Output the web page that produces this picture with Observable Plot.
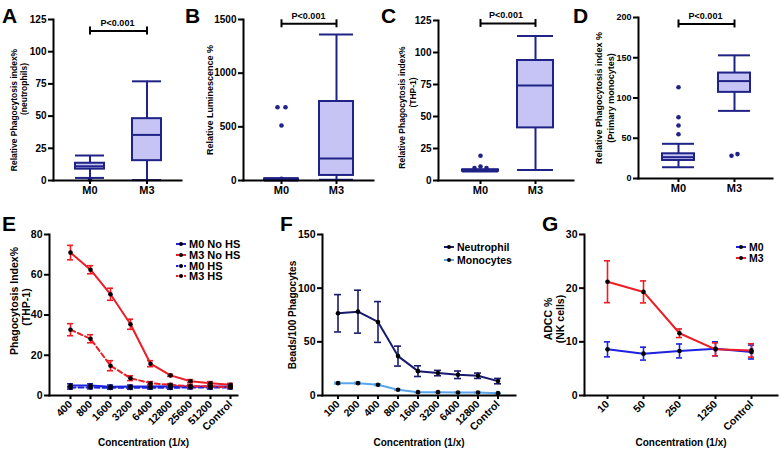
<!DOCTYPE html>
<html><head><meta charset="utf-8">
<script src="https://cdn.jsdelivr.net/npm/d3@7"></script>
<script src="https://cdn.jsdelivr.net/npm/@observablehq/plot@0.6"></script>
<style>
body{margin:0;background:#fff;}
#wrap{position:relative;width:780px;height:452px;overflow:hidden;font-family:"Liberation Sans",Arial,sans-serif;background:#fff;}
.panel{position:absolute;}
.letter{position:absolute;font-weight:bold;font-size:21px;line-height:21px;color:#000;}
.leg{position:absolute;font-weight:bold;color:#000;white-space:nowrap;}
.leg div{display:flex;align-items:center;}
.leg svg{margin-right:3px;}
</style></head><body><div id="wrap"></div><script>
// ---------------- DATA ----------------
const groups = ["M0", "M3"];
const pLabel = "P<0.001";

// Panel A (neutrophils)
const aLo  = [2, 0.3];
const aQ1  = [8.8, 15.4];
const aMed = [11, 35.4];
const aQ3  = [13.4, 48];
const aHi  = [19.4, 77];
const aOutM0 = [0.6];

// Panel B (luminescence)
const bLo  = [0, 6];
const bQ1  = [2, 47];
const bMed = [8, 205];
const bQ3  = [15, 736];
const bHi  = [22, 1360];
const bOutM0 = [512, 15];
const bOutM0Pair = [683];

// Panel C (THP-1)
const cLo  = [7, 8.3];
const cQ1  = [7.2, 41.1];
const cMed = [7.8, 74.2];
const cQ3  = [8.3, 93.75];
const cHi  = [8.6, 112.8];
const cOutM0 = [19.3, 10.9];
const cOutM0Pair = [9.8];

// Panel D (primary monocytes)
const dLo  = [14, 84];
const dQ1  = [22.4, 107];
const dMed = [26.5, 121];
const dQ3  = [30.7, 131];
const dHi  = [43.1, 153];
const dOutM0 = [113.4, 76.1, 65.8, 55];
const dOutM3Left = [28.2];
const dOutM3Right = [30.3];

// Panel E
const concE = ["400","800","1600","3200","6400","12800","25600","51200","Control"];
const eM0NoHS    = [5.0, 5.0, 4.4, 4.5, 4.5, 4.6, 4.5, 4.5, 4.5];
const eM0NoHSErr = [0.8, 0.8, 0.8, 0.7, 0.7, 0.7, 0.7, 0.7, 0.7];
const eM3NoHS    = [71.0, 62.5, 50.3, 35.4, 15.8, 10.0, 7.1, 6.1, 5.3];
const eM3NoHSErr = [3.6, 2.0, 3.0, 2.5, 1.5, 0.5, 0.8, 0.8, 0.7];
const eM0HS      = [3.9, 4.0, 3.8, 3.8, 3.9, 3.8, 4.0, 3.9, 4.0];
const eM0HSErr   = [0.7, 0.7, 0.7, 0.7, 0.7, 0.7, 0.7, 0.7, 0.7];
const eM3HS      = [32.7, 28.2, 14.8, 8.6, 6.1, 5.3, 4.6, 4.6, 4.1];
const eM3HSErr   = [3.0, 2.0, 2.5, 1.2, 0.8, 0.6, 0.6, 0.6, 0.5];
const eLegend = ["M0 No HS", "M3 No HS", "M0 HS", "M3 HS"];

// Panel F
const concF = ["100","200","400","800","1600","3200","6400","12800","Control"];
const fNeut    = [76.6, 78.1, 68.5, 36.7, 22.7, 20.9, 19.3, 18.4, 13.4];
const fNeutErr = [17.4, 20.0, 19.0, 9.3, 5.0, 2.5, 3.5, 2.5, 2.5];
const fMono    = [11.5, 11.5, 10.0, 5.3, 3.1, 3.1, 2.8, 2.8, 2.2];
const fMonoErr = [0.8, 0.8, 0.8, 0.5, 0.4, 0.4, 0.4, 0.4, 0.4];
const fLegend = ["Neutrophil", "Monocytes"];

// Panel G
const concG = ["10","50","250","1250","Control"];
const gM0    = [8.6, 7.8, 8.3, 8.7, 8.1];
const gM0Err = [1.4, 1.2, 1.3, 1.3, 1.3];
const gM3    = [21.2, 19.3, 11.6, 8.6, 8.4];
const gM3Err = [3.9, 2.05, 0.8, 1.2, 1.25];
const gLegend = ["M0", "M3"];

const xTitle = "Concentration (1/x)";

// ---------------- STYLE ----------------
const NAVY = "#1f2286";
const BOXFILL = "#c6c4f4";
const RED = "#ee1c24";
const BLUE = "#1c22e0";
const DARKNAVY = "#181a6e";
const LIGHTBLUE = "#5aa6ee";
const FONT = '"Liberation Sans", Arial, sans-serif';

const wrap = document.getElementById("wrap");

function bandOpts(left, right, c1, cN, n, bw) {
  const step = (cN - c1) / (n - 1);
  const pI = 1 - bw / step;
  const L = right - left;
  const pO = (L / step - n + pI) / 2;
  const align = (c1 - bw / 2 - left) / (2 * pO * step);
  return {paddingInner: pI, paddingOuter: pO, align: Math.max(0, Math.min(1, align))};
}

function place(svg, x, y) {
  const d = document.createElement("div");
  d.className = "panel";
  d.style.left = x + "px";
  d.style.top = y + "px";
  d.appendChild(svg);
  wrap.appendChild(d);
}

function letter(t, x, y) {
  const d = document.createElement("div");
  d.className = "letter";
  d.textContent = t;
  d.style.left = x + "px";
  d.style.top = y + "px";
  wrap.appendChild(d);
}

function yLabelMarks(lines, fs) {
  return lines.map(l => Plot.text([l.t], {
    frameAnchor: "left", textAnchor: "middle", lineAnchor: "middle", rotate: -90, text: d => d, dx: l.dx, dy: l.dy,
    fontSize: fs, fontWeight: "bold", fill: "black"
  }));
}

function boxPanel(cfg) {
  const [px, py, w, h] = cfg.pos;
  const [l, r, t, b] = cfg.frame;
  const rows = groups.map((g, i) => ({g, lo: cfg.lo[i], q1: cfg.q1[i], med: cfg.med[i], q3: cfg.q3[i], hi: cfg.hi[i]}));
  const sw = 2;
  const marks = [
    Plot.ruleX(rows, {x: "g", y1: "lo", y2: "q1", stroke: NAVY, strokeWidth: sw}),
    Plot.ruleX(rows, {x: "g", y1: "q3", y2: "hi", stroke: NAVY, strokeWidth: sw}),
    Plot.tickY(rows, {x: "g", y: "lo", stroke: NAVY, strokeWidth: sw}),
    Plot.tickY(rows, {x: "g", y: "hi", stroke: NAVY, strokeWidth: sw}),
    Plot.barY(rows, {x: "g", y1: "q1", y2: "q3", fill: BOXFILL, stroke: NAVY, strokeWidth: sw}),
    Plot.tickY(rows, {x: "g", y: "med", stroke: NAVY, strokeWidth: sw}),
  ];
  for (const o of cfg.outliers) {
    marks.push(Plot.dot(o.vals.map(v => ({g: o.g, v})), {x: "g", y: "v", r: 2.3, fill: NAVY, dx: o.dx || 0}));
  }
  const pRow = [{a: groups[0], b: groups[1], y: cfg.pY}];
  marks.push(
    Plot.link(pRow, {x1: "a", x2: "b", y1: "y", y2: "y", stroke: "black", strokeWidth: 2}),
    Plot.ruleX([{g: groups[0], y: cfg.pY}, {g: groups[1], y: cfg.pY}], {x: "g", y1: "y", y2: "y", insetTop: -4, insetBottom: -4, stroke: "black", strokeWidth: 2}),
    Plot.text([pLabel], {y: () => cfg.pY, text: d => d, dy: -8, fontSize: 9, fontWeight: "bold", fill: "black"}),
    Plot.frame({anchor: "left", stroke: "black", strokeWidth: 2}),
    Plot.frame({anchor: "bottom", stroke: "black", strokeWidth: 2}),
    Plot.axisY({ticks: cfg.yTicks, tickFormat: d3.format("d"), tickSize: 5, tickPadding: 2, strokeWidth: 2, fontSize: cfg.yTickSize || 10, fontWeight: "bold", label: null}),
    Plot.axisX({tickSize: 4, tickPadding: 2, strokeWidth: 2, fontSize: 11, fontWeight: "bold", label: null}),
    ...yLabelMarks(cfg.ylabel, cfg.ylabelSize)
  );
  const svg = Plot.plot({
    width: w, height: h,
    marginLeft: l - px, marginRight: px + w - r, marginTop: t - py, marginBottom: py + h - b,
    style: {fontFamily: FONT, fontWeight: "bold", background: "transparent", overflow: "visible"},
    x: {type: "band", domain: groups, ...bandOpts(l, r, cfg.centers[0], cfg.centers[1], 2, cfg.bw)},
    y: {domain: cfg.yDomain},
    marks
  });
  place(svg, px, py);
}

function linePanel(cfg) {
  const [px, py, w, h] = cfg.pos;
  const [l, r, t, b] = cfg.frame;
  const marks = [];
  for (const s of cfg.series) {
    const rows = cfg.domain.map((c, i) => ({c, v: s.values[i], e: s.err[i]}));
    s.rows = rows;
    marks.push(Plot.line(rows, {x: "c", y: "v", stroke: s.color, strokeWidth: 2, strokeDasharray: s.dash ? "5,3" : null}));
  }
  for (const s of cfg.series) {
    const rows = s.rows;
    marks.push(
      Plot.ruleX(rows, {x: "c", y1: d => d.v - d.e, y2: d => d.v + d.e, stroke: s.color, strokeWidth: 1.6}),
      Plot.tickY(rows, {x: "c", y: d => d.v + d.e, stroke: s.color, strokeWidth: 1.6}),
      Plot.tickY(rows, {x: "c", y: d => d.v - d.e, stroke: s.color, strokeWidth: 1.6})
    );
  }
  for (const s of cfg.series) {
    marks.push(Plot.dot(s.rows, {x: "c", y: "v", r: 2.3, fill: "black"}));
  }
  marks.push(
    Plot.frame({anchor: "left", stroke: "black", strokeWidth: 2}),
    Plot.frame({anchor: "bottom", stroke: "black", strokeWidth: 2}),
    Plot.axisY({ticks: cfg.yTicks, tickFormat: d3.format("d"), tickSize: 5, tickPadding: 2, strokeWidth: 2, fontSize: 10.5, fontWeight: "bold", label: null}),
    Plot.axisX({tickSize: 4, tickPadding: 3, tickRotate: -45, strokeWidth: 2, fontSize: 10.5, fontWeight: "bold", label: null}),
    Plot.text([xTitle], {frameAnchor: "bottom", text: d => d, dy: 50, fontSize: 10, fontWeight: "bold", fill: "black"}),
    ...yLabelMarks(cfg.ylabel, cfg.ylabelSize)
  );
  const svg = Plot.plot({
    width: w, height: h,
    marginLeft: l - px, marginRight: px + w - r, marginTop: t - py, marginBottom: py + h - b,
    style: {fontFamily: FONT, fontWeight: "bold", background: "transparent", overflow: "visible"},
    x: {type: "band", domain: cfg.domain, ...bandOpts(l, r, cfg.c1, cfg.cN, cfg.domain.length, cfg.bw)},
    y: {domain: cfg.yDomain},
    marks
  });
  place(svg, px, py);
}

function legend(items, x, y, gap, fs) {
  const d = document.createElement("div");
  d.className = "leg";
  d.style.left = x + "px";
  d.style.top = y + "px";
  d.style.fontSize = fs + "px";
  for (const it of items) {
    const row = document.createElement("div");
    row.style.height = gap + "px";
    row.innerHTML = `<svg width="10" height="8"><line x1="0" x2="10" y1="4" y2="4" stroke="${it.color}" stroke-width="2" ${it.dash ? 'stroke-dasharray="2.5,1.5"' : ""}/><circle cx="5" cy="4" r="2" fill="black"/></svg><span>${it.label}</span>`;
    d.appendChild(row);
  }
  wrap.appendChild(d);
}

// ---------------- PANELS ----------------
boxPanel({
  pos: [0, 0, 190, 200], frame: [53, 181, 19, 180], centers: [89, 146], bw: 29,
  lo: aLo, q1: aQ1, med: aMed, q3: aQ3, hi: aHi,
  outliers: [{g: "M0", vals: aOutM0}],
  yDomain: [0, 125], yTicks: [0, 25, 50, 75, 100, 125], pY: 116,
  ylabel: [{t: "Relative Phagocytosis index%", dx: -39, dy: 10}, {t: "(neutrophils)", dx: -29, dy: -11}], ylabelSize: 8.5
});
boxPanel({
  pos: [190, 0, 190, 200], frame: [243, 373, 19, 180], centers: [281, 337], bw: 35,
  lo: bLo, q1: bQ1, med: bMed, q3: bQ3, hi: bHi,
  outliers: [{g: "M0", vals: bOutM0}, {g: "M0", vals: bOutM0Pair, dx: -4}, {g: "M0", vals: bOutM0Pair, dx: 4}],
  yDomain: [0, 1500], yTicks: [0, 500, 1000, 1500], pY: 1460,
  ylabel: [{t: "Relative Luminescence %", dx: -33, dy: 0}], ylabelSize: 9
});
boxPanel({
  pos: [380, 0, 190, 200], frame: [438, 573, 20, 180], centers: [480, 535], bw: 36,
  lo: cLo, q1: cQ1, med: cMed, q3: cQ3, hi: cHi,
  outliers: [{g: "M0", vals: cOutM0}, {g: "M0", vals: cOutM0Pair, dx: -6}, {g: "M0", vals: cOutM0Pair, dx: 6}],
  yDomain: [0, 125], yTicks: [0, 25, 50, 75, 100, 125], pY: 122.7,
  ylabel: [{t: "Relative Phagocytosis index%", dx: -36, dy: 7}, {t: "(THP-1)", dx: -25, dy: -8}], ylabelSize: 8.5
});
boxPanel({
  pos: [570, 0, 210, 200], frame: [638, 772, 17, 178], centers: [678, 735], bw: 33,
  lo: dLo, q1: dQ1, med: dMed, q3: dQ3, hi: dHi,
  outliers: [{g: "M0", vals: dOutM0}, {g: "M3", vals: dOutM3Left, dx: -3}, {g: "M3", vals: dOutM3Right, dx: 3}],
  yDomain: [0, 200], yTicks: [0, 50, 100, 150, 200], pY: 192, yTickSize: 9,
  ylabel: [{t: "Relative Phagocytosis index %", dx: -39, dy: 0}, {t: "(Primary monocytes)", dx: -27, dy: 0}], ylabelSize: 9
});

linePanel({
  pos: [0, 195, 260, 257], frame: [49, 237, 234, 395], c1: 65, cN: 231, bw: 6,
  domain: concE, yDomain: [0, 80], yTicks: [0, 20, 40, 60, 80],
  series: [
    {values: eM0NoHS, err: eM0NoHSErr, color: BLUE},
    {values: eM0HS, err: eM0HSErr, color: BLUE, dash: true},
    {values: eM3HS, err: eM3HSErr, color: RED, dash: true},
    {values: eM3NoHS, err: eM3NoHSErr, color: RED}
  ],
  ylabel: [{t: "Phagocytosis Index%", dx: -35, dy: -14}, {t: "(THP-1)", dx: -23, dy: -8}], ylabelSize: 10.5
});
linePanel({
  pos: [260, 195, 260, 257], frame: [322, 515, 234, 395], c1: 335, cN: 501, bw: 7,
  domain: concF, yDomain: [0, 150], yTicks: [0, 50, 100, 150],
  series: [
    {values: fMono, err: fMonoErr, color: LIGHTBLUE},
    {values: fNeut, err: fNeutErr, color: DARKNAVY}
  ],
  ylabel: [{t: "Beads/100 Phagocytes", dx: -30, dy: 0}], ylabelSize: 10
});
linePanel({
  pos: [520, 195, 260, 257], frame: [584, 777, 234, 395], c1: 607, cN: 752, bw: 6,
  domain: concG, yDomain: [0, 30], yTicks: [0, 10, 20, 30],
  series: [
    {values: gM0, err: gM0Err, color: BLUE},
    {values: gM3, err: gM3Err, color: RED}
  ],
  ylabel: [{t: "ADCC %", dx: -36, dy: 4}, {t: "(NK cells)", dx: -24, dy: 4}], ylabelSize: 10.5
});

legend(eLegend.map((label, i) => ({label, color: [BLUE, RED, BLUE, RED][i], dash: i >= 2})), 176, 239, 10.7, 11);
legend(fLegend.map((label, i) => ({label, color: [DARKNAVY, LIGHTBLUE][i]})), 444, 240, 13.5, 10.5);
legend(gLegend.map((label, i) => ({label, color: [BLUE, RED][i]})), 736, 241, 11.5, 10.5);

letter("A", 2, 5); letter("B", 185, 5); letter("C", 381, 5); letter("D", 573, 5);
letter("E", 2, 213); letter("F", 280, 213); letter("G", 542, 213);
</script></body></html>
